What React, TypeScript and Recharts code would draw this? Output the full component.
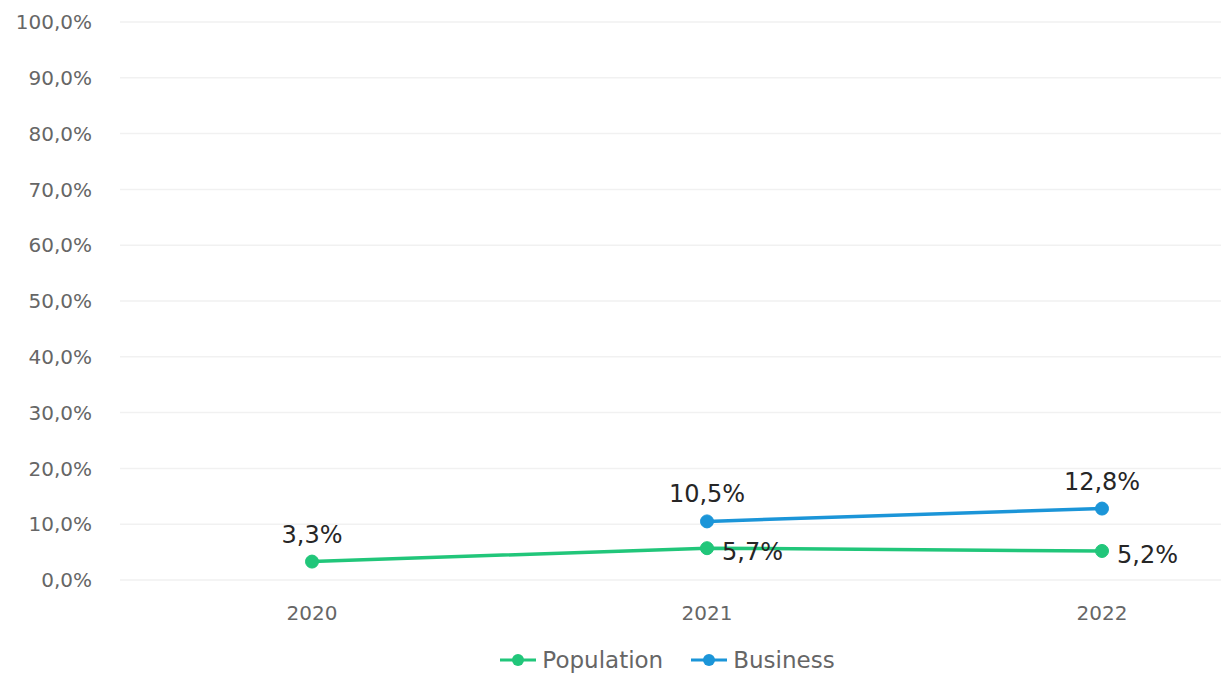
import React from 'react';
import { LineChart, Line, XAxis, YAxis, CartesianGrid, Legend } from 'recharts';

const years = ['2020', '2021', '2022'];
const population = [3.3, 5.7, 5.2];
const business: (number | null)[] = [null, 10.5, 12.8];
const yTicks = [0, 10, 20, 30, 40, 50, 60, 70, 80, 90, 100];

const GREEN = '#21c67a';
const BLUE = '#1b95d8';
const FONT = '"DejaVu Sans", Verdana, sans-serif';

const data = years.map((y, i) => ({ year: y, Population: population[i], Business: business[i] }));

const fmt = (v: number) => `${v.toFixed(1).replace('.', ',')}%`;

const makeLabel = (rightFrom: number) => (props: any) => {
  const { x, y, value, index } = props;
  if (value === null || value === undefined) return null;
  const right = index >= rightFrom;
  return (
    <text
      key={`l-${index}`}
      x={right ? x + 15 : x}
      y={right ? y + 4 : y - 27}
      textAnchor={right ? 'start' : 'middle'}
      dominantBaseline="central"
      fontFamily={FONT}
      fontSize={24}
      fill="#262626"
    >
      {fmt(value)}
    </text>
  );
};

const LegendContent = () => {
  const items = [
    { name: 'Population', color: GREEN },
    { name: 'Business', color: BLUE },
  ];
  return (
    <div style={{ display: 'flex', justifyContent: 'center', alignItems: 'center', height: 40, fontFamily: FONT }}>
      {items.map((it, i) => (
        <div key={it.name} style={{ display: 'flex', alignItems: 'center', marginLeft: i ? 28 : 0 }}>
          <svg width={36} height={16} style={{ marginRight: 6 }}>
            <line x1={0} y1={8} x2={36} y2={8} stroke={it.color} strokeWidth={3} />
            <circle cx={18} cy={8} r={6} fill={it.color} />
          </svg>
          <span style={{ fontSize: 23, color: '#666' }}>{it.name}</span>
        </div>
      ))}
    </div>
  );
};

export default function App() {
  return (
    <div style={{ position: 'fixed', left: 0, top: 0, background: '#fff' }}>
      <LineChart width={1221} height={680} data={data} margin={{ top: 22, right: 0, bottom: 0, left: 0 }}>
        <CartesianGrid vertical={false} stroke="#f1f1f1" strokeWidth={1.5} />
        <XAxis
          dataKey="year"
          axisLine={false}
          tickLine={false}
          height={60}
          padding={{ left: 192, right: 119 }}
          tickMargin={20}
          tick={{ fontSize: 20, fill: '#666', fontFamily: FONT }}
        />
        <YAxis
          domain={[0, 100]}
          ticks={yTicks}
          width={120}
          axisLine={false}
          tickLine={false}
          tickMargin={22}
          tickFormatter={fmt}
          tick={{ fontSize: 20, fill: '#666', fontFamily: FONT }}
        />
        <Legend verticalAlign="bottom" height={40} content={<LegendContent />} wrapperStyle={{ left: 114, width: 1107 }} />
        <Line
          dataKey="Population"
          stroke={GREEN}
          strokeWidth={3.5}
          dot={{ r: 6.5, fill: GREEN, stroke: GREEN, strokeWidth: 1 }}
          isAnimationActive={false}
          label={makeLabel(1)}
        />
        <Line
          dataKey="Business"
          stroke={BLUE}
          strokeWidth={3.5}
          dot={{ r: 6.5, fill: BLUE, stroke: BLUE, strokeWidth: 1 }}
          isAnimationActive={false}
          connectNulls={false}
          label={makeLabel(99)}
        />
      </LineChart>
    </div>
  );
}
